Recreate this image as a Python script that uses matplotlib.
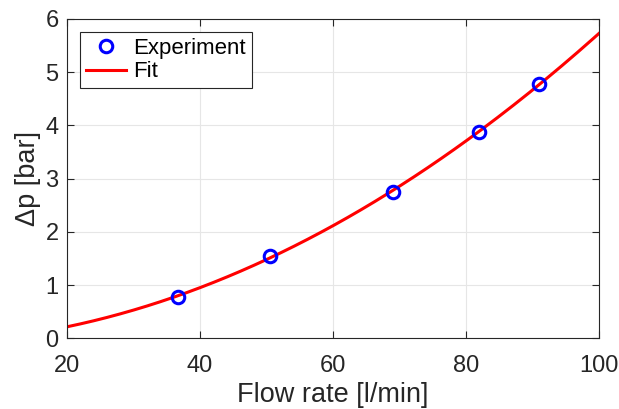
import numpy as np
import matplotlib.pyplot as plt

plt.rcParams['font.family'] = ['Liberation Sans', 'DejaVu Sans']

# measured points
flow = [36.7, 50.5, 69.0, 82.0, 90.9]
dp = [0.78, 1.55, 2.75, 3.88, 4.77]

# quadratic fit of the measurements
coef = np.polyfit(flow, dp, 2)
q_fit = np.linspace(20, 100, 200)
dp_fit = np.polyval(coef, q_fit)

fig = plt.figure(figsize=(6.19, 4.09), dpi=100)
ax = fig.add_axes([0.108, 0.173, 0.86, 0.781])

tc = '#262626'
ax.plot(flow, dp, 'o', mfc='none', mec='blue', mew=2.2, ms=9, label='Experiment', zorder=3)
ax.plot(q_fit, dp_fit, '-', color='red', lw=2.2, label='Fit', zorder=2)

ax.set_xlim(20, 100)
ax.set_ylim(0, 6)
ax.set_xticks([20, 40, 60, 80, 100])
ax.set_yticks([0, 1, 2, 3, 4, 5, 6])
ax.grid(True, color='#e6e6e6', lw=0.8)
ax.set_axisbelow(True)
ax.tick_params(direction='in', top=True, right=True, labelsize=17, colors=tc,
               length=5, width=0.8)
ax.tick_params(axis='x', pad=12)
ax.tick_params(axis='y', pad=6)
for s in ax.spines.values():
    s.set_color('#262626')
    s.set_linewidth(0.8)

ax.set_xlabel('Flow rate [l/min]', fontsize=19.5, color=tc, labelpad=4)
ax.set_ylabel('Δp [bar]', fontsize=19.5, color=tc, labelpad=3)

leg = ax.legend(loc='upper left', fontsize=16, fancybox=False, framealpha=1,
                edgecolor='#262626', borderpad=0.25, handlelength=1.8,
                handletextpad=0.35, labelspacing=0.12, borderaxespad=0.6)
leg.get_frame().set_linewidth(0.8)

fig.savefig('out.png', dpi=100)
